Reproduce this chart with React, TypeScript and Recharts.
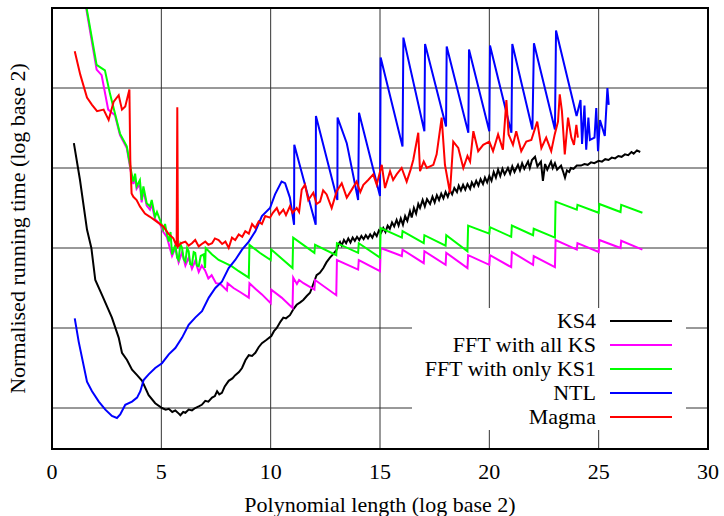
import { LineChart, Line, XAxis, YAxis, CartesianGrid, Legend, Label } from 'recharts';

type Pt = [number, number];

const xTicks = [0, 5, 10, 15, 20, 25, 30];
const yTicks = [1, 2, 3, 4, 5];
const yDomain: [number, number] = [0.4875, 6];

const seriesNames = ['KS4', 'FFT with all KS', 'FFT with only KS1', 'NTL', 'Magma'];
const seriesColors = ['#000000', '#ff00ff', '#00ff00', '#0000ff', '#ff0000'];

const ks4: Pt[] = [
  [1.0, 4.31], [1.28, 3.85], [1.6, 3.23], [1.8, 3.0], [1.98, 2.6], [2.29, 2.41], [2.74, 2.13], [3.05, 1.88],
  [3.2, 1.69], [3.43, 1.6], [3.66, 1.48], [3.89, 1.41], [4.12, 1.34], [4.42, 1.16], [4.72, 1.06], [5.03, 1.0],
  [5.2, 0.98], [5.34, 0.99], [5.5, 0.95], [5.64, 0.97], [5.8, 0.93], [5.87, 0.91], [6.0, 0.95], [6.1, 0.94],
  [6.25, 0.98], [6.4, 0.97], [6.55, 1.0], [6.71, 1.02], [6.85, 1.04], [7.01, 1.09], [7.15, 1.08], [7.32, 1.13],
  [7.45, 1.15], [7.55, 1.21], [7.65, 1.17], [7.77, 1.19], [7.9, 1.27], [8.08, 1.34], [8.25, 1.37], [8.38, 1.41],
  [8.55, 1.45], [8.69, 1.5], [8.85, 1.6], [9.0, 1.66], [9.15, 1.65], [9.3, 1.69], [9.45, 1.76], [9.6, 1.81],
  [9.8, 1.85], [10.03, 1.9], [10.15, 1.96], [10.28, 2.0], [10.45, 2.08], [10.58, 2.13], [10.7, 2.12], [10.88, 2.16],
  [11.05, 2.24], [11.19, 2.29], [11.35, 2.32], [11.49, 2.35], [11.65, 2.4], [11.8, 2.44], [11.95, 2.55], [12.1, 2.66],
  [12.25, 2.69], [12.41, 2.75], [12.55, 2.82], [12.71, 2.88], [12.85, 2.92], [13.02, 2.98],
  [13.1, 3.05], [13.17, 3.075], [13.25, 3.03], [13.35, 3.1], [13.45, 3.06], [13.55, 3.12], [13.65, 3.07], [13.75, 3.13],
  [13.85, 3.09], [13.95, 3.14], [14.05, 3.1], [14.15, 3.15], [14.25, 3.11], [14.35, 3.16], [14.45, 3.12], [14.55, 3.17],
  [14.65, 3.13], [14.75, 3.19], [14.85, 3.15], [14.95, 3.22], [15.05, 3.19], [15.15, 3.25], [15.25, 3.2], [15.35, 3.28],
  [15.45, 3.24], [15.55, 3.32], [15.65, 3.27], [15.76, 3.35], [15.85, 3.28], [15.95, 3.37], [16.05, 3.29], [16.15, 3.4],
  [16.25, 3.34], [16.37, 3.46], [16.45, 3.38], [16.55, 3.5], [16.65, 3.43], [16.75, 3.55], [16.83, 3.5], [16.95, 3.6],
  [17.05, 3.52], [17.15, 3.61], [17.29, 3.55], [17.4, 3.64], [17.5, 3.57], [17.6, 3.66], [17.7, 3.6], [17.8, 3.68],
  [17.9, 3.62], [18.0, 3.7], [18.1, 3.64], [18.2, 3.72], [18.3, 3.67], [18.4, 3.75], [18.52, 3.7], [18.6, 3.78],
  [18.7, 3.72], [18.8, 3.79], [18.9, 3.73], [19.0, 3.8], [19.12, 3.74], [19.2, 3.82], [19.3, 3.77], [19.4, 3.84],
  [19.5, 3.78], [19.6, 3.86], [19.71, 3.8], [19.8, 3.88], [19.9, 3.82], [20.0, 3.9], [20.1, 3.84], [20.2, 3.95],
  [20.3, 3.88], [20.4, 3.98], [20.5, 3.9], [20.6, 3.99], [20.7, 3.92], [20.85, 4.0], [20.95, 3.93], [21.05, 4.02],
  [21.15, 3.95], [21.31, 4.04], [21.4, 3.97], [21.5, 4.06], [21.6, 3.99], [21.77, 4.08], [21.85, 4.0], [21.95, 4.1],
  [22.09, 4.14], [22.2, 4.02], [22.36, 4.08], [22.45, 3.84], [22.55, 4.05], [22.65, 3.98], [22.82, 4.08], [22.9, 4.0],
  [23.0, 4.06], [23.1, 3.98], [23.28, 4.03], [23.38, 3.95], [23.46, 3.88], [23.55, 3.97], [23.65, 3.95], [23.73, 4.0],
  [23.85, 3.99], [24.0, 4.03], [24.19, 4.03], [24.35, 4.05], [24.5, 4.04], [24.65, 4.07], [24.8, 4.06], [25.0, 4.09],
  [25.15, 4.08], [25.3, 4.11], [25.45, 4.1], [25.6, 4.13], [25.75, 4.12], [25.9, 4.15], [26.05, 4.14], [26.2, 4.17],
  [26.35, 4.16], [26.5, 4.2], [26.6, 4.18], [26.75, 4.22], [26.9, 4.2],
];

const fftAllKs: Pt[] = [
  [1.0, 6.9], [2.04, 5.23], [2.27, 5.16], [2.57, 4.73], [2.88, 4.66], [3.11, 4.41], [3.42, 4.25], [3.64, 3.9],
  [3.72, 3.8], [3.8, 3.88], [3.87, 3.74], [4.02, 3.8], [4.1, 3.57], [4.18, 3.72], [4.33, 3.53], [4.48, 3.48],
  [4.56, 3.55], [4.71, 3.36], [4.94, 3.3], [5.09, 3.2], [5.25, 3.14], [5.34, 3.05], [5.49, 2.9], [5.64, 3.0],
  [5.79, 2.82], [5.95, 2.95], [6.1, 2.78], [6.25, 2.88], [6.4, 2.74], [6.55, 2.84], [6.71, 2.7], [6.85, 2.78],
  [7.0, 2.72], [7.15, 2.62], [7.3, 2.66], [7.5, 2.56], [7.7, 2.55], [8.0, 2.47], [8.03, 2.56], [8.3, 2.5],
  [8.6, 2.45], [9.0, 2.38], [9.03, 2.56], [9.3, 2.49], [9.6, 2.42], [10.0, 2.31], [10.03, 2.48], [10.5, 2.38],
  [11.0, 2.25], [11.03, 2.63], [11.2, 2.55], [11.3, 2.6], [11.5, 2.56], [12.0, 2.48], [12.03, 2.6], [13.0, 2.41],
  [13.03, 2.85], [14.0, 2.73], [14.03, 2.85], [15.0, 2.71], [15.03, 3.0], [16.0, 2.9], [16.03, 2.98], [17.0, 2.81],
  [17.03, 2.96], [18.0, 2.79], [18.03, 2.94], [19.0, 2.75], [19.03, 2.91], [20.0, 2.79], [20.03, 2.91], [21.0, 2.76],
  [21.03, 2.95], [22.0, 2.79], [22.03, 2.9], [23.0, 2.76], [23.03, 3.1], [24.0, 2.98], [24.03, 3.06], [25.0, 2.95],
  [25.03, 3.1], [26.0, 3.0], [26.03, 3.09], [27.0, 2.98],
];

const fftKs1: Pt[] = [
  [1.0, 6.9], [2.04, 5.29], [2.42, 5.22], [2.65, 4.93], [2.88, 4.68], [3.11, 4.43], [3.42, 4.27], [3.64, 3.93],
  [3.72, 3.83], [3.8, 3.93], [3.87, 3.77], [4.02, 3.85], [4.1, 3.6], [4.18, 3.77], [4.33, 3.56], [4.48, 3.52],
  [4.56, 3.6], [4.71, 3.39], [4.8, 3.45], [4.94, 3.35], [5.09, 3.23], [5.17, 3.3], [5.25, 3.18], [5.34, 3.08],
  [5.42, 3.2], [5.49, 2.92], [5.64, 3.04], [5.72, 2.88], [5.79, 2.85], [5.87, 3.05], [5.95, 3.0], [6.02, 2.86],
  [6.1, 2.83], [6.18, 3.0], [6.25, 2.96], [6.32, 2.8], [6.4, 2.79], [6.48, 2.95], [6.55, 2.94], [6.63, 2.78],
  [6.71, 2.77], [6.8, 2.9], [6.94, 2.92], [7.0, 2.75], [7.03, 3.0], [7.32, 2.92], [7.62, 2.85], [7.93, 2.81],
  [8.23, 2.77], [8.54, 2.71], [9.0, 2.63], [9.03, 3.04], [9.5, 2.94], [10.0, 2.85], [10.03, 2.98], [11.0, 2.75],
  [11.03, 3.13], [12.0, 2.94], [12.03, 3.04], [13.0, 2.91], [13.03, 3.06], [14.0, 2.94], [14.03, 3.06], [15.0, 2.88],
  [15.03, 3.25], [16.0, 3.13], [16.03, 3.21], [17.0, 3.06], [17.03, 3.16], [18.0, 3.03], [18.03, 3.16], [19.0, 2.96],
  [19.03, 3.28], [20.0, 3.18], [20.03, 3.26], [21.0, 3.14], [21.03, 3.28], [22.0, 3.16], [22.03, 3.24], [23.0, 3.13],
  [23.03, 3.58], [24.0, 3.48], [24.03, 3.54], [25.0, 3.44], [25.03, 3.55], [26.0, 3.45], [26.03, 3.54], [27.0, 3.44],
];

const ntl: Pt[] = [
  [1.04, 2.12], [1.22, 1.83], [1.6, 1.33], [1.83, 1.21], [2.14, 1.08], [2.44, 0.98], [2.74, 0.9], [2.97, 0.875],
  [3.12, 0.92], [3.35, 1.04], [3.66, 1.08], [3.89, 1.13], [4.04, 1.21], [4.19, 1.35], [4.42, 1.42], [4.72, 1.5],
  [5.03, 1.56], [5.34, 1.67], [5.64, 1.75], [5.95, 1.88], [6.25, 2.04], [6.55, 2.13], [6.86, 2.21], [7.17, 2.38],
  [7.47, 2.5], [7.77, 2.58], [8.08, 2.75], [8.38, 2.85], [8.69, 2.98], [9.0, 3.08], [9.3, 3.21], [9.6, 3.4],
  [9.97, 3.5], [10.2, 3.67], [10.5, 3.83], [10.66, 3.81], [10.88, 3.63], [11.07, 3.29], [11.08, 4.29], [12.06, 3.29],
  [12.07, 4.65], [13.05, 3.6], [13.06, 4.63], [13.48, 4.31], [13.54, 4.23], [14.0, 3.6], [14.04, 4.69], [15.0, 3.65],
  [15.03, 5.38], [16.03, 4.27], [16.07, 5.63], [17.03, 4.46], [17.06, 5.55], [18.02, 4.52], [18.05, 5.52], [19.04, 4.44],
  [19.07, 5.48], [20.0, 4.46], [20.03, 5.53], [21.01, 4.44], [21.05, 5.55], [21.97, 4.48], [22.04, 5.56], [23.0, 4.48],
  [23.05, 5.72], [23.99, 4.65], [24.17, 4.85], [24.24, 4.3], [24.35, 4.78], [24.43, 4.23], [24.53, 4.63], [24.6, 4.35],
  [24.81, 4.38], [24.89, 4.75], [24.97, 4.21], [25.06, 4.6], [25.28, 4.4], [25.4, 5.0], [25.46, 4.79],
];

const magma: Pt[] = [
  [1.04, 5.46], [1.29, 5.17], [1.6, 4.88], [1.83, 4.79], [2.06, 4.71], [2.36, 4.73], [2.59, 4.6], [2.82, 4.83],
  [3.05, 4.91], [3.2, 4.73], [3.35, 4.77], [3.54, 4.98], [3.58, 4.1], [3.64, 3.68], [3.72, 3.64], [3.87, 3.6],
  [4.02, 3.52], [4.25, 3.43], [4.48, 3.39], [4.79, 3.33], [5.09, 3.27], [5.32, 3.18], [5.55, 3.12], [5.7, 3.02],
  [5.73, 4.76], [5.76, 3.02], [5.9, 3.06], [6.1, 3.08], [6.25, 3.03], [6.4, 3.06], [6.55, 3.1], [6.71, 3.02],
  [6.85, 3.05], [7.01, 3.08], [7.15, 3.04], [7.32, 3.06], [7.45, 3.12], [7.62, 3.1], [7.78, 3.05], [7.93, 3.08],
  [8.08, 3.0], [8.23, 3.13], [8.38, 3.1], [8.54, 3.17], [8.7, 3.14], [8.84, 3.21], [9.0, 3.18], [9.15, 3.3],
  [9.3, 3.25], [9.45, 3.33], [9.6, 3.3], [9.75, 3.4], [9.97, 3.38], [10.1, 3.44], [10.28, 3.5], [10.4, 3.42],
  [10.58, 3.48], [10.7, 3.41], [10.88, 3.52], [11.0, 3.44], [11.19, 3.5], [11.3, 3.45], [11.42, 3.73], [11.57, 3.79],
  [11.72, 3.6], [11.95, 3.69], [12.1, 3.55], [12.26, 3.58], [12.4, 3.72], [12.56, 3.67], [12.79, 3.5], [13.02, 3.71],
  [13.25, 3.81], [13.48, 3.63], [13.71, 3.73], [13.93, 3.83], [14.1, 3.7], [14.24, 3.79], [14.46, 3.85], [14.69, 3.92],
  [14.85, 3.79], [15.08, 4.04], [15.23, 3.75], [15.46, 3.96], [15.6, 3.85], [15.76, 3.92], [15.99, 4.0], [16.22, 3.83],
  [16.4, 3.98], [16.52, 4.1], [16.75, 4.44], [16.83, 3.96], [17.0, 4.08], [17.14, 4.0], [17.44, 4.04], [17.59, 4.17],
  [17.82, 4.63], [17.97, 4.04], [18.2, 3.69], [18.35, 4.33], [18.58, 4.25], [18.81, 4.0], [19.0, 4.15], [19.12, 4.08],
  [19.27, 4.46], [19.49, 4.21], [19.72, 4.29], [20.0, 4.33], [20.17, 4.21], [20.4, 4.42], [20.62, 4.23], [20.78, 4.85],
  [20.88, 4.42], [21.08, 4.29], [21.23, 4.46], [21.46, 4.21], [21.69, 4.33], [21.92, 4.35], [22.19, 4.58], [22.38, 4.25],
  [22.6, 4.38], [22.83, 4.21], [22.99, 4.42], [23.14, 4.58], [23.22, 4.92], [23.32, 4.71], [23.45, 4.17], [23.6, 4.63],
  [23.75, 4.38], [23.87, 4.29], [23.98, 4.54], [24.05, 4.38],
];

const seriesData = [ks4, fftAllKs, fftKs1, ntl, magma].map((s) => s.map(([x, y]) => ({ x, y })));

const FONT = 'Liberation Serif, Times New Roman, DejaVu Serif, serif';
const noTick = () => <g />;

const LegendBox = () => (
  <svg width={274} height={122} style={{ display: 'block', background: '#fff' }}>
    {seriesNames.map((name, i) => (
      <g key={name}>
        <text x={184} y={20 + i * 24} textAnchor="end" fontSize={22} fontFamily={FONT} fill="#000">
          {name}
        </text>
        <line x1={198} x2={260} y1={13 + i * 24} y2={13 + i * 24} stroke={seriesColors[i]} strokeWidth={2} />
      </g>
    ))}
  </svg>
);

export default function App() {
  return (
    <div style={{ position: 'fixed', left: 0, top: 0, width: 724, height: 516, background: '#fff', overflow: 'hidden' }}>
      <LineChart width={724} height={516} margin={{ top: 8, right: 16, bottom: 0, left: 51 }}>
        <CartesianGrid stroke="#333" strokeWidth={1} />
        <XAxis
          dataKey="x"
          type="number"
          domain={[0, 30]}
          ticks={xTicks}
          height={67}
          axisLine={false}
          tickLine={false}
          tickSize={0}
          tickMargin={0}
          allowDataOverflow
          tick={(p: any) => (
            <text x={p.x} y={p.y} dy={30} textAnchor="middle" fontSize={22} fontFamily={FONT} fill="#000">
              {p.payload.value}
            </text>
          )}
        >
          <Label
            content={(p: any) => (
              <text
                x={p.viewBox.x + p.viewBox.width / 2}
                y={p.viewBox.y + 63}
                textAnchor="middle"
                fontSize={22}
                fontFamily={FONT}
                fill="#000"
              >
                Polynomial length (log base 2)
              </text>
            )}
          />
        </XAxis>
        <YAxis
          type="number"
          domain={yDomain}
          ticks={yTicks}
          width={1}
          axisLine={false}
          tickLine={false}
          tick={noTick}
          allowDataOverflow
        >
          <Label
            content={(p: any) => (
              <text
                transform={`translate(24.5, ${p.viewBox.y + p.viewBox.height / 2}) rotate(-90)`}
                textAnchor="middle"
                fontSize={22}
                fontFamily={FONT}
                fill="#000"
              >
                Normalised running time (log base 2)
              </text>
            )}
          />
        </YAxis>
        {seriesData.map((d, i) => (
          <Line
            key={seriesNames[i]}
            data={d}
            dataKey="y"
            name={seriesNames[i]}
            type="linear"
            stroke={seriesColors[i]}
            strokeWidth={2}
            dot={false}
            activeDot={false}
            isAnimationActive={false}
          />
        ))}
        <Legend
          layout="horizontal"
          verticalAlign="middle"
          align="center"
          content={() => <LegendBox />}
          wrapperStyle={{ left: 412, top: 308, width: 274, height: 122 }}
        />
      </LineChart>
      {/* plot frame */}
      <div
        style={{
          position: 'absolute',
          left: 51,
          top: 7,
          width: 654,
          height: 439,
          border: '2px solid #000',
          pointerEvents: 'none',
        }}
      />
    </div>
  );
}
